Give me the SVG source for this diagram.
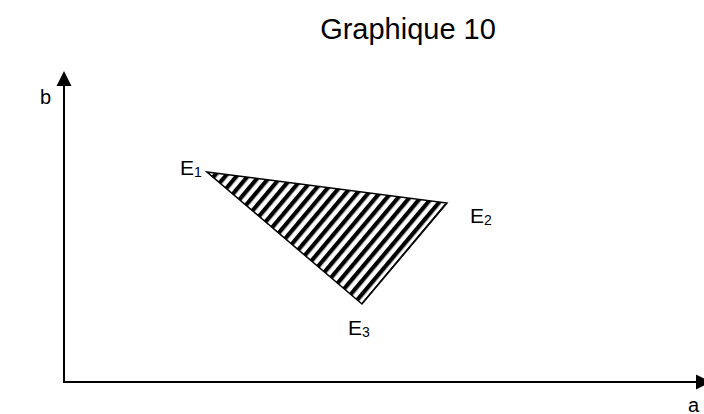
<svg xmlns="http://www.w3.org/2000/svg" width="704" height="414" viewBox="0 0 704 414">
<style>
.t{font-family:"Liberation Sans",Arial,sans-serif;fill:#000}
.ax{stroke:#000;stroke-width:2;fill:none}
.edge{stroke:#000;stroke-width:1.5;fill:url(#hatch);stroke-linejoin:miter}
</style>
<defs>
<pattern id="hatch" patternUnits="userSpaceOnUse" width="8.6" height="20" patternTransform="rotate(40)">
<rect x="0" y="0" width="8.6" height="20" fill="#fff"/>
<rect x="0" y="0" width="4.2" height="20" fill="#000"/>
</pattern>
</defs>
<rect width="704" height="414" fill="#fff"/>
<text class="t" x="408" y="39" font-size="29" text-anchor="middle">Graphique 10</text>
<g id="connectors">
<line class="ax" x1="64" y1="382" x2="64" y2="86"/>
<path d="M64,71 L56.5,86 L71.5,86 Z" fill="#000"/>
<line class="ax" x1="63" y1="382" x2="700" y2="382"/>
<path d="M711,382 L696,374.5 L696,389.5 Z" fill="#000"/>
</g>
<g id="axis-b"><text class="t" x="40" y="104" font-size="20">b</text></g>
<g id="axis-a"><text class="t" x="688" y="412" font-size="20">a</text></g>
<g id="region">
<polygon class="edge" points="207,172 447,203 362,304"/>
<line x1="447" y1="203" x2="364" y2="302" stroke="#000" stroke-width="1" transform="translate(-2,1)"/>
</g>
<g id="E1"><text class="t" x="180" y="175" font-size="21">E<tspan font-size="14" dy="2">1</tspan></text></g>
<g id="E2"><text class="t" x="470" y="223" font-size="21">E<tspan font-size="14" dy="2">2</tspan></text></g>
<g id="E3"><text class="t" x="348" y="335" font-size="21">E<tspan font-size="14" dy="2">3</tspan></text></g>
</svg>
